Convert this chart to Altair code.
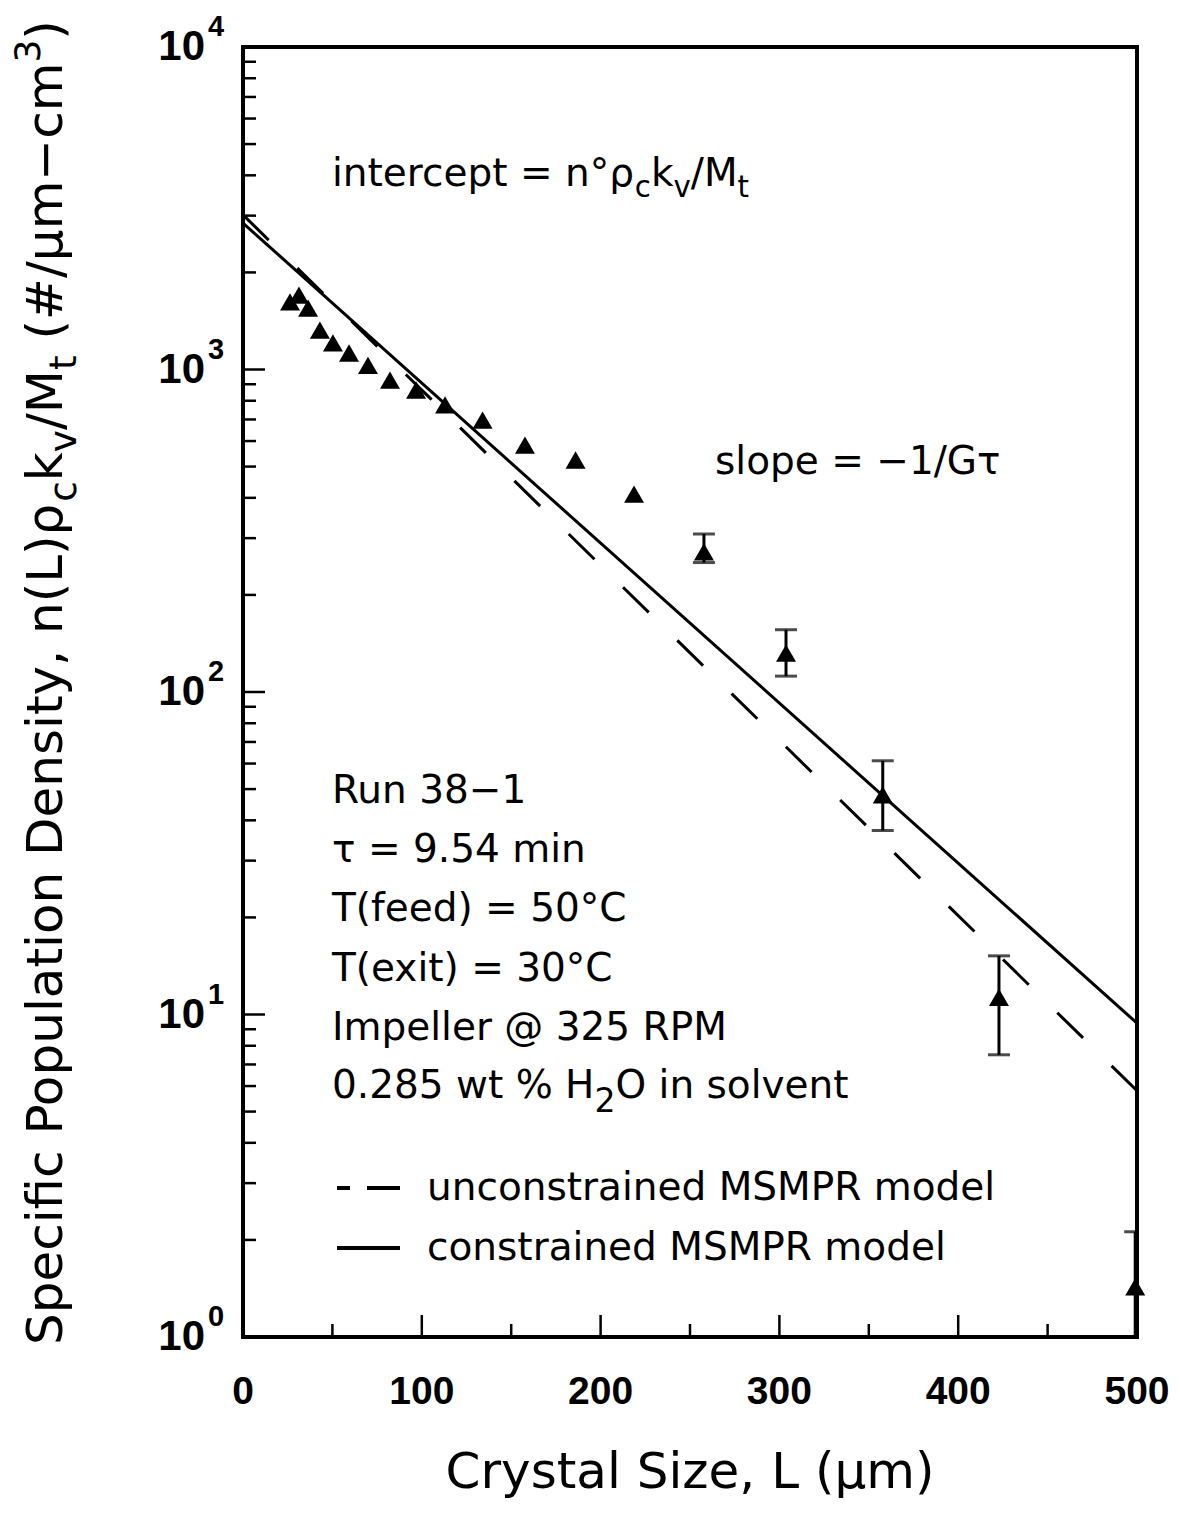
import altair as alt
import pandas as pd

# ---------------- data ----------------
size_L = [26.3, 31.3, 36.4, 43.0, 50.3, 59.3, 69.9, 82.2, 96.8, 113.0, 134.0,
          157.7, 186.0, 218.7, 257.8, 303.7, 357.8, 422.8, 499.0]
density = [1620, 1700, 1550, 1325, 1210, 1125, 1030, 927, 864, 777, 697,
           583, 524, 411, 272, 132, 48, 11.3, 1.43]

err_L = [257.8, 303.7, 357.8, 422.8, 499.0]
err_lo = [252, 112, 37.2, 7.5, 0.8]
err_hi = [309, 156, 61.2, 15.2, 2.12]

model_L = [0, 500]
constrained = [2845, 9.4]
unconstrained = [3015, 5.8]

x_major = [0, 100, 200, 300, 400, 500]
x_labels = ["0", "100", "200", "300", "400", "500"]
x_minor = [50, 150, 250, 350, 450]
y_decades = [1, 10, 100, 1000, 10000]
y_exponents = ["0", "1", "2", "3", "4"]
y_minor = [m * d for d in [1, 10, 100, 1000] for m in range(2, 10)]

# ---------------- layout helpers ----------------
W, H = 894, 1290
XMAX = 500.0


def px2x(px):
    return px / W * XMAX


def py2y(py):
    return 10 ** ((H - py) / H * 4)


EM = {' ': .318, '(': .390, ')': .390, '#': .838, '%': .950, ',': .318, '-': .361,
      '.': .318, '/': .337, '=': .838, '@': 1.0, '°': .5, '−': .838, 'μ': .636,
      'ρ': .635, 'τ': .568,
      'A': .684, 'C': .698, 'D': .770, 'G': .776, 'H': .752, 'I': .295, 'L': .557,
      'M': .863, 'O': .787, 'P': .603, 'R': .695, 'S': .635, 'T': .611,
      'a': .613, 'c': .550, 'd': .635, 'e': .615, 'f': .352, 'i': .278, 'k': .579,
      'l': .278, 'm': .974, 'n': .634, 'o': .612, 'p': .635, 'r': .411, 's': .521,
      't': .392, 'u': .634, 'v': .592, 'w': .818, 'x': .592, 'y': .592, 'z': .525}


def tw(s, size):
    return sum(EM.get(ch, .636) for ch in s) * size


def compose(x0, y0, parts, size, vertical=False):
    rows = []
    pos = 0.0
    for text, kind in parts:
        if kind == "sub":
            fs, shift = size * 0.75, size * 0.28
        elif kind == "sub2":
            fs, shift = size * 0.85, size * 0.35
        elif kind == "sup":
            fs, shift = size * 0.72, -size * 0.45
        else:
            fs, shift = size, 0.0
        # leading spaces are collapsed in SVG text: advance instead
        while text.startswith(" "):
            pos += tw(" ", fs)
            text = text[1:]
        if vertical:
            px, py = x0 + shift, y0 - pos
        else:
            px, py = x0 + pos, y0 + shift
        rows.append({"x": px2x(px), "y": py2y(py), "text": text, "size": fs})
        pos += tw(text, fs)
    return rows


TS = 39
rows = []
rows += compose(89, 139, [("intercept = n°ρ", "n"), ("c", "sub"), ("k", "n"),
                          ("v", "sub"), ("/M", "n"), ("t", "sub")], TS)
rows += compose(472, 427, [("slope = −1/Gτ", "n")], TS)
rows += compose(89, 756, [("Run 38−1", "n")], TS)
rows += compose(89, 815, [("τ = 9.54 min", "n")], TS)
rows += compose(89, 874, [("T(feed) = 50°C", "n")], TS)
rows += compose(89, 934, [("T(exit) = 30°C", "n")], TS)
rows += compose(89, 993, [("Impeller @ 325 RPM", "n")], TS)
rows += compose(89, 1051, [("0.285 wt % H", "n"), ("2", "sub2"), ("O in solvent", "n")], TS)
rows += compose(184, 1153, [("unconstrained MSMPR model", "n")], TS)
rows += compose(184, 1213, [("constrained MSMPR model", "n")], TS)
xt = "Crystal Size, L (μm)"
rows += compose(447 - tw(xt, 50) / 2, 1441, [(xt, "n")], 50)
text_df = pd.DataFrame(rows)

vrows = compose(-181, 1298, [("Specific Population Density, n(L)ρ", "n"), ("c", "sub"),
                            ("k", "n"), ("v", "sub"), ("/M", "n"), ("t", "sub"),
                            (" (#/μm−cm", "n"), ("3", "sup"), (")", "n")], 50, vertical=True)
vtext_df = pd.DataFrame(vrows)

pts = pd.DataFrame({"L": size_L, "n": density})
err = pd.DataFrame({"L": err_L, "lo": err_lo, "hi": err_hi})
lines = pd.DataFrame({"L": model_L * 2,
                      "n": constrained + unconstrained,
                      "model": ["constrained"] * 2 + ["unconstrained"] * 2})
ylab = pd.DataFrame({"v": y_decades, "e": y_exponents,
                     "xb": [px2x(-38)] * 5, "xe": [px2x(-35)] * 5})
xlab = pd.DataFrame({"v": x_major, "t": x_labels, "y": [py2y(H + 55)] * 6})

xs = alt.Scale(domain=[0, 500], nice=False, zero=False)
ys = alt.Scale(type="log", domain=[1, 10000], nice=False)
X = lambda f: alt.X(f, type="quantitative", scale=xs, axis=None)
Y = lambda f: alt.Y(f, type="quantitative", scale=ys, axis=None)


# ticks (inside, left and bottom)
def tick_layer(vals, length, side):
    df = pd.DataFrame({"v": vals})
    c = alt.Chart(df).mark_rule(color="black", strokeWidth=2.5)
    if side == "left":
        return c.encode(y=Y("v"), x=alt.value(0), x2=alt.value(length))
    return c.encode(x=X("v"), y=alt.value(H), y2=alt.value(H - length))


ticks = [tick_layer(y_decades, 22, "left"), tick_layer(y_minor, 13, "left"),
         tick_layer(x_major, 22, "bottom"), tick_layer(x_minor, 13, "bottom")]

# plot frame
frame = [
    alt.Chart(pts).mark_rule(color="black", strokeWidth=3).encode(
        x=alt.value(0), y=alt.value(-1.5), y2=alt.value(H + 1.5)),
    alt.Chart(pts).mark_rule(color="black", strokeWidth=3).encode(
        x=alt.value(W), y=alt.value(-1.5), y2=alt.value(H + 1.5)),
    alt.Chart(pts).mark_rule(color="black", strokeWidth=3).encode(
        y=alt.value(0), x=alt.value(-1.5), x2=alt.value(W + 1.5)),
    alt.Chart(pts).mark_rule(color="black", strokeWidth=3).encode(
        y=alt.value(H), x=alt.value(-1.5), x2=alt.value(W + 1.5)),
]

solid = alt.Chart(lines[lines.model == "constrained"]).mark_line(
    color="black", strokeWidth=3).encode(x=X("L"), y=Y("n"))
dashed = alt.Chart(lines[lines.model == "unconstrained"]).mark_line(
    color="black", strokeWidth=3, strokeDash=[36, 40]).encode(x=X("L"), y=Y("n"))

err_rule = alt.Chart(err).mark_rule(color="black", strokeWidth=3, clip=True).encode(
    x=X("L"), y=Y("lo"), y2="hi")
cap_hi = alt.Chart(err).mark_tick(color="black", orient="horizontal", size=22,
                                  thickness=3, clip=True).encode(x=X("L"), y=Y("hi"))
cap_lo = alt.Chart(err).mark_tick(color="black", orient="horizontal", size=22,
                                  thickness=3, clip=True).encode(x=X("L"), y=Y("lo"))

tri = alt.Chart(pts).mark_point(shape="triangle-up", filled=True, color="black",
                                opacity=1, size=400).encode(x=X("L"), y=Y("n"))

texts = alt.Chart(text_df).mark_text(align="left", baseline="alphabetic",
                                     font="DejaVu Sans", color="black").encode(
    x=X("x"), y=Y("y"), text="text:N", size=alt.Size("size:Q", scale=None, legend=None))
vtexts = alt.Chart(vtext_df).mark_text(align="left", baseline="alphabetic", angle=270,
                                       font="DejaVu Sans", color="black").encode(
    x=X("x"), y=Y("y"), text="text:N", size=alt.Size("size:Q", scale=None, legend=None))

ylab10 = alt.Chart(ylab).mark_text(align="right", baseline="middle", font="Liberation Sans",
                                   fontWeight="bold", fontSize=42, color="black").encode(
    x=X("xb"), y=Y("v"), text=alt.value("10"))
ylabexp = alt.Chart(ylab).mark_text(align="left", baseline="middle", font="Liberation Sans",
                                    fontWeight="bold", fontSize=29, dy=-20, color="black").encode(
    x=X("xe"), y=Y("v"), text="e:N")
xlabs = alt.Chart(xlab).mark_text(align="center", baseline="middle", font="Liberation Sans",
                                  fontWeight="bold", fontSize=39, color="black").encode(
    x=X("v"), y=Y("y"), text="t:N")

leg_dash1 = alt.Chart(pts).mark_rule(color="black", strokeWidth=3).encode(
    x=alt.value(94), x2=alt.value(107), y=alt.value(1141))
leg_dash2 = alt.Chart(pts).mark_rule(color="black", strokeWidth=3).encode(
    x=alt.value(124), x2=alt.value(157), y=alt.value(1141))
leg_solid = alt.Chart(pts).mark_rule(color="black", strokeWidth=3).encode(
    x=alt.value(94), x2=alt.value(157), y=alt.value(1201))

chart = alt.layer(*frame, *ticks, solid, dashed, err_rule, cap_hi, cap_lo, tri,
                  texts, vtexts, ylab10, ylabexp, xlabs,
                  leg_dash1, leg_dash2, leg_solid).properties(
    width=W, height=H,
    background="white",
    autosize=alt.AutoSizeParams(type="none"),
    padding={"left": 235, "top": 39, "right": 35, "bottom": 166},
).configure_view(stroke=None)

chart.save("out.html", embed_options={"renderer": "svg", "actions": False})
